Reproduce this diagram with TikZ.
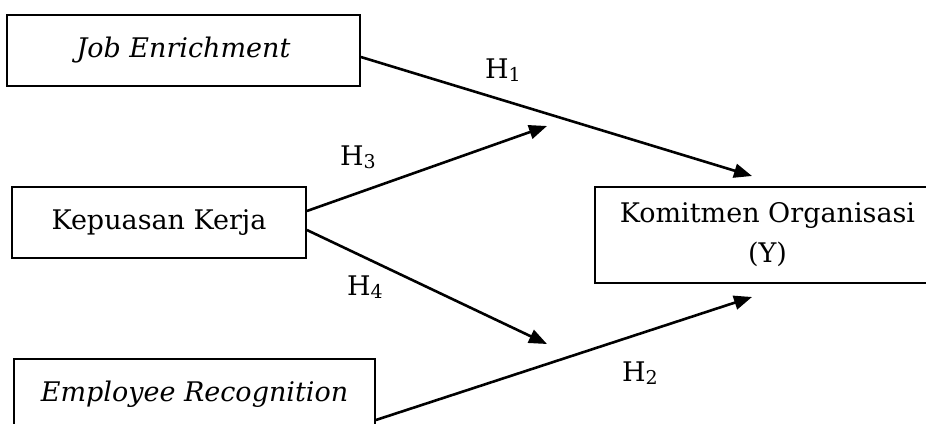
\documentclass[tikz,border=0pt]{standalone}
\usepackage{fontspec}
\setmainfont{DejaVu Serif}
\usetikzlibrary{arrows.meta}
\newcommand{\hsub}[1]{H\raisebox{-3pt}{\fontsize{19}{20}\selectfont #1}}
\begin{document}
\begin{tikzpicture}[x=1pt,y=-1pt,
  box/.style={draw,line width=1.8pt,minimum height=71pt,inner sep=0pt,align=center,
    font=\fontsize{27}{40}\selectfont},
  link/.style={line width=2.6pt,-{Triangle[length=18pt,width=14pt]}},
  hlab/.style={font=\fontsize{27}{30}\selectfont,inner sep=0pt}]
\useasboundingbox (0,0) rectangle (926,423);
\clip (0,0) rectangle (926,423);
\node[box,minimum width=353pt] (job) at (183.5,50.5) {\textit{Job Enrichment}};
\node[box,minimum width=294pt] (kep) at (159,222.5) {Kepuasan Kerja};
\node[box,minimum width=361pt] (emp) at (194.5,394.5) {\raisebox{3pt}{\textit{Employee Recognition}}};
\node[box,minimum width=345pt,minimum height=96pt] (kom) at (767.5,235) {Komitmen Organisasi\\(Y)};
\coordinate (t1) at (752,176);
\coordinate (t2) at (752,297);
\coordinate (t3) at (547,126);
\coordinate (t4) at (547,344);
\draw[link] ([yshift=-6.5pt]job.east) -- (t1);
\draw[link] ([yshift=11.5pt]kep.east) -- (t3);
\draw[link] ([yshift=-7.5pt]kep.east) -- (t4);
\draw[link] ([yshift=-25.5pt]emp.east) -- (t2);
\node[hlab] (h1) at (503,70) {\hsub{1}};
\node[hlab] (h3) at (358,157) {\hsub{3}};
\node[hlab] (h4) at (365,287) {\hsub{4}};
\node[hlab] (h2) at (640,373) {\hsub{2}};
\end{tikzpicture}
\end{document}
